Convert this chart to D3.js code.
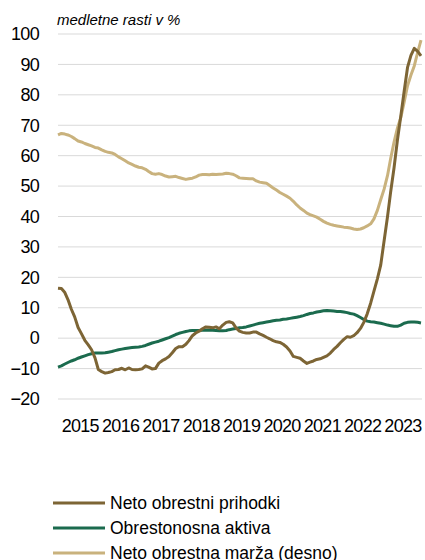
<!DOCTYPE html>
<html><head><meta charset="utf-8">
<script src="https://cdn.jsdelivr.net/npm/d3@7"></script>
<style>body{margin:0;background:#fff}svg{display:block;font-family:"Liberation Sans",Arial,sans-serif}</style>
</head><body><svg id="c" width="425" height="560"></svg>
<script>
// Monthly data, Dec 2014 .. Dec 2023
const startYear = 2014, startMonth = 11;
const netoPrihodki = [16.4,16.3,15.0,12.7,9.5,7.0,3.5,1.5,-0.7,-2.2,-3.8,-6.5,-10.3,-11.0,-11.5,-11.3,-11.0,-10.4,-10.3,-9.9,-10.4,-9.8,-10.3,-10.4,-10.3,-10.1,-9.1,-9.5,-10.1,-10.0,-8.2,-7.4,-6.8,-6.0,-4.8,-3.4,-2.8,-2.8,-2.0,-0.8,0.8,1.7,2.3,3.1,3.7,3.6,3.4,3.7,3.1,4.3,5.2,5.4,5.0,3.4,2.3,1.9,1.7,1.7,2.0,2.0,1.4,0.9,0.3,-0.2,-0.8,-1.2,-1.4,-2.0,-2.9,-4.2,-6.0,-6.3,-6.6,-7.5,-8.3,-7.9,-7.5,-7.0,-6.8,-6.3,-5.8,-4.9,-3.7,-2.7,-1.5,-0.4,0.5,0.3,0.8,1.8,3.2,5.2,8.0,11.5,15.5,19.5,24,32,40,48,56,65,73,81,89,93,95.3,94.3,92.8];
const obrestonosnaAktiva = [-9.5,-9.1,-8.5,-8.0,-7.5,-7.1,-6.6,-6.2,-5.8,-5.4,-5.1,-4.9,-4.9,-4.9,-4.8,-4.6,-4.4,-4.1,-3.8,-3.6,-3.4,-3.2,-3.1,-3.0,-2.9,-2.7,-2.4,-2.0,-1.6,-1.3,-1.0,-0.6,-0.2,0.2,0.7,1.2,1.6,1.9,2.2,2.4,2.5,2.5,2.5,2.6,2.6,2.7,2.6,2.5,2.4,2.4,2.5,2.8,3.0,3.2,3.4,3.5,3.7,4.0,4.3,4.6,4.9,5.1,5.3,5.5,5.7,5.9,6.0,6.2,6.3,6.5,6.7,6.9,7.1,7.4,7.8,8.1,8.3,8.6,8.8,9.0,9.1,9.0,8.9,8.8,8.8,8.6,8.4,8.1,7.9,7.4,6.8,6.1,5.6,5.4,5.3,5.1,4.9,4.6,4.3,4.1,3.9,3.9,4.3,4.9,5.2,5.3,5.3,5.2,5.0];
const netoMarza = [66.8,67.3,67.1,66.8,66.3,65.6,64.8,64.5,64.0,63.6,63.2,62.7,62.5,61.9,61.4,61.1,60.9,60.4,59.6,59.0,58.3,57.6,57.1,56.6,56.2,56.0,55.5,54.8,54.1,53.9,54.1,53.8,53.3,53.0,53.1,53.2,52.8,52.5,52.2,52.4,52.6,53.0,53.6,53.8,53.8,53.7,53.9,53.8,53.9,54.0,54.2,54.1,53.9,53.4,52.7,52.6,52.5,52.4,52.4,51.7,51.3,51.1,50.9,50.2,49.4,48.7,47.9,47.3,46.7,46.0,45.0,43.8,42.8,42.0,41.1,40.6,40.2,39.8,39.1,38.4,37.8,37.4,37.1,36.9,36.7,36.5,36.4,36.2,35.9,35.7,35.9,36.3,36.9,37.6,39.2,42.0,45.5,49.0,53.5,59.0,64.5,69.0,72.5,77.5,83.0,86.5,89.5,94.0,98.0];
const yTicks = [100,90,80,70,60,50,40,30,20,10,0,-10,-20];
const yearLabels = [2015,2016,2017,2018,2019,2020,2021,2022,2023];
const seriesNames = ["Neto obrestni prihodki","Obrestonosna aktiva","Neto obrestna marža (desno)"];
const seriesColors = ["#7d6535","#1b6b4e","#c9b27d"];

const svg = d3.select("#c");
const dates = netoPrihodki.map((_, i) => new Date(startYear, startMonth + i, 1));
const x = d3.scaleTime().domain([dates[0], dates[dates.length-1]]).range([58, 421]);
const y = d3.scaleLinear().domain([-20, 100]).range([399, 34]);

// gridlines
svg.append("g").selectAll("line").data(yTicks).join("line")
  .attr("x1", 58).attr("x2", 422)
  .attr("y1", d => y(d)).attr("y2", d => y(d))
  .attr("stroke", "#d9d9d9").attr("stroke-width", 1);

// y axis
const ya = svg.append("g").attr("transform", "translate(39,0)")
  .call(d3.axisLeft(y).tickValues(yTicks).tickSize(0).tickPadding(0).tickFormat(d3.format("d")));
ya.select(".domain").remove();
ya.selectAll("text").attr("font-size", 18).attr("letter-spacing", -0.7).attr("fill", "#000")
  .attr("font-family", "Liberation Sans, Arial, sans-serif");

// x axis
const xa = svg.append("g").attr("transform", "translate(0,412)")
  .call(d3.axisBottom(x).tickValues(yearLabels.map(yr => new Date(yr, 5, 16))).tickSize(0).tickPadding(7).tickFormat(d3.timeFormat("%Y")));
xa.select(".domain").remove();
xa.selectAll("text").attr("font-size", 18).attr("letter-spacing", -0.7).attr("fill", "#000")
  .attr("font-family", "Liberation Sans, Arial, sans-serif");

// title
svg.append("text").attr("x", 57).attr("y", 25).attr("font-size", 15).attr("font-style", "italic")
  .attr("fill", "#000").text("medletne rasti v %");

const line = d3.line().x((d, i) => x(dates[i])).y(d => y(d)).curve(d3.curveLinear);
const allSeries = [netoPrihodki, obrestonosnaAktiva, netoMarza];
[2, 1, 0].forEach(k => {
  svg.append("path").datum(allSeries[k]).attr("d", line)
    .attr("fill", "none").attr("stroke", seriesColors[k]).attr("stroke-width", 3)
    .attr("stroke-linejoin", "round");
});

// legend
const lg = svg.append("g").selectAll("g").data(seriesNames).join("g")
  .attr("transform", (d, i) => `translate(53,${503 + i * 25})`);
lg.append("line").attr("x1", 0).attr("x2", 52).attr("y1", 0).attr("y2", 0)
  .attr("stroke", (d, i) => seriesColors[i]).attr("stroke-width", 3);
lg.append("text").attr("x", 57).attr("y", 6).attr("font-size", 17.5).attr("fill", "#000").text(d => d);
</script></body></html>
